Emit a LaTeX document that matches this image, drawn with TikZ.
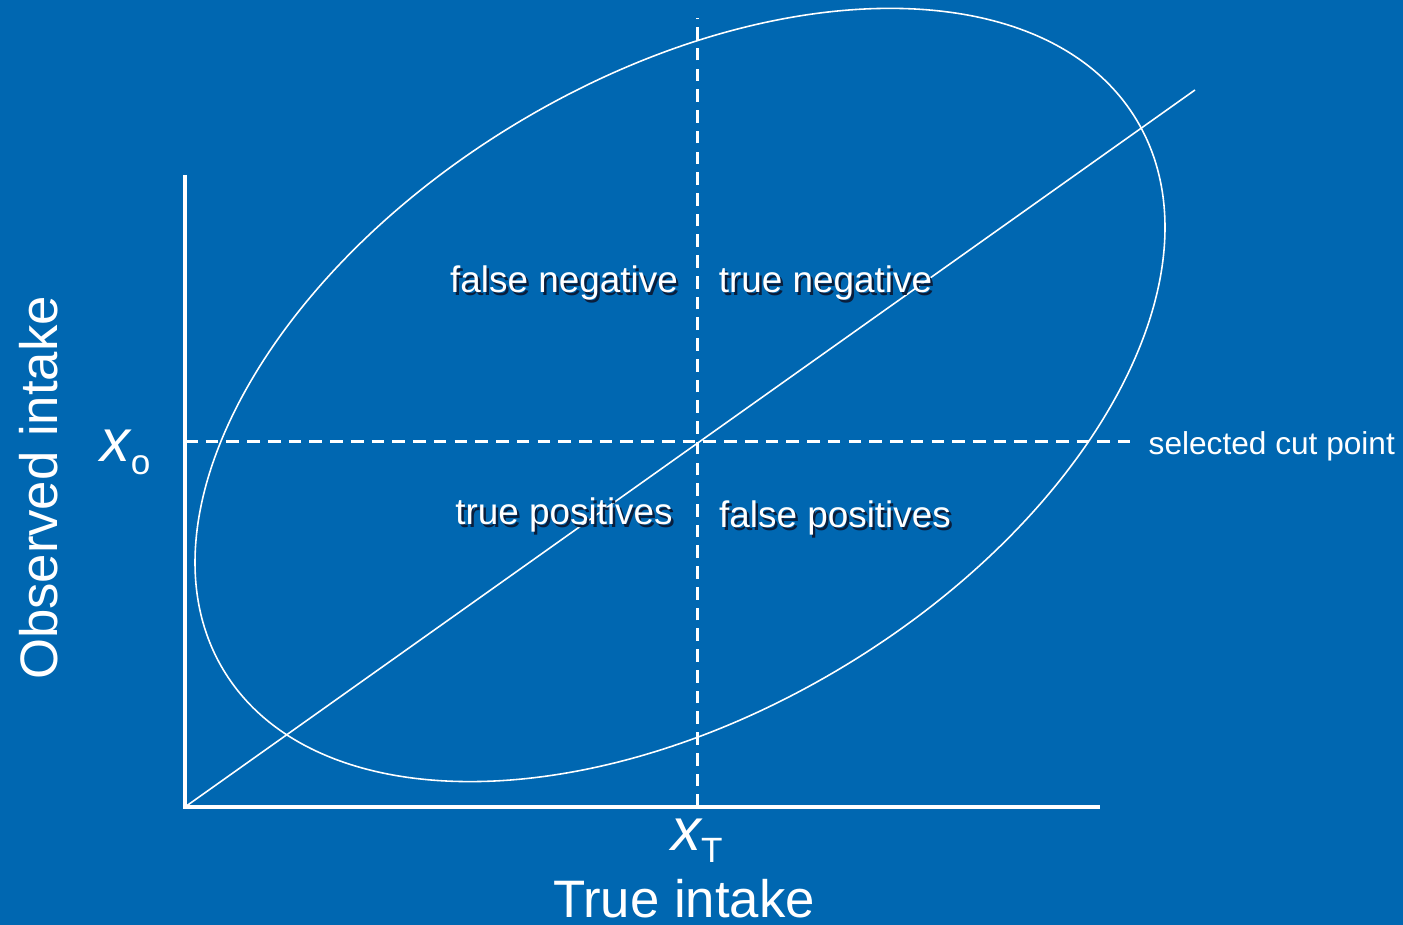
\documentclass[tikz,border=0pt]{standalone}
\usepackage{fontspec}
\setmainfont{Liberation Sans}
\usetikzlibrary{positioning, calc}
\definecolor{slideblue}{RGB}{0,103,177}
\definecolor{shade}{RGB}{10,30,60}

% text with a small drop shadow
\newcommand{\shadowtxt}[1]{\makebox[0pt][l]{\hspace{0.7pt}\raisebox{-0.7pt}{\color{shade}#1}}#1}

\tikzset{
  axis/.style={white, line width=1.1pt},
  cutline/.style={white, line width=0.85pt, dash pattern=on 3.6pt off 2.3pt},
  thinline/.style={white, line width=0.45pt},
  region/.style={white, anchor=base, inner sep=0pt, font=\fontsize{10.5}{12}\selectfont},
}

\begin{document}
\begin{tikzpicture}
  \fill[slideblue] (0,0) rectangle (14.03,9.25);
  \useasboundingbox (0,0) rectangle (14.03,9.25);

  % Axes
  \coordinate (O) at (1.85,1.18);
  \coordinate (ytop) at (1.85,7.50);
  \coordinate (xend) at (11.00,1.18);
  \draw[axis] (ytop) -- (O) -- (xend);

  % Agreement line
  \coordinate (diagend) at (11.95,8.35);
  \draw[thinline] (O) -- (diagend);

  % Joint distribution
  \draw[thinline, rotate around={31.1:(6.80,5.30)}] (6.80,5.30) ellipse (5.33 and 3.17);

  % Cut points
  \coordinate (xTbase) at (6.97,1.18);
  \coordinate (xTtop) at (6.97,9.07);
  \coordinate (xoleft) at (1.85,4.83);
  \coordinate (xoright) at (11.30,4.83);
  \draw[cutline] (xTbase) -- (xTtop);
  \draw[cutline] (xoleft) -- (xoright);

  % Regions
  \node[region] (fneg) at (5.64,6.32) {\shadowtxt{false negative}};
  \node[region] (tneg) at (8.255,6.32) {\shadowtxt{true negative}};
  \node[region] (tpos) at (5.64,4.00) {\shadowtxt{true positives}};
  \node[region] (fpos) at (8.35,3.97) {\shadowtxt{false positives}};

  % Labels
  \node[white, anchor=base west, inner sep=0pt, font=\fontsize{9}{11}\selectfont]
    (cut) at (11.48,4.70) {selected cut point};
  \node[white, anchor=base east, inner sep=0pt, font=\fontsize{17}{20}\selectfont]
    (xo) at (1.51,4.63) {\itshape x\raisebox{-0.4ex}{\upshape\fontsize{10}{12}\selectfont o}};
  \node[white, anchor=base, inner sep=0pt, font=\fontsize{17}{20}\selectfont]
    (xT) at (6.97,0.74) {\itshape x\raisebox{-0.35ex}{\upshape\fontsize{10}{12}\selectfont T}};
  \node[white, anchor=base, inner sep=0pt, font=\fontsize{15}{18}\selectfont]
    (xlabel) at (6.84,0.07) {True intake};
  \node[white, anchor=base, inner sep=0pt, rotate=90, font=\fontsize{15}{18}\selectfont]
    (ylabel) at (0.57,4.37) {Observed intake};
\end{tikzpicture}
\end{document}
